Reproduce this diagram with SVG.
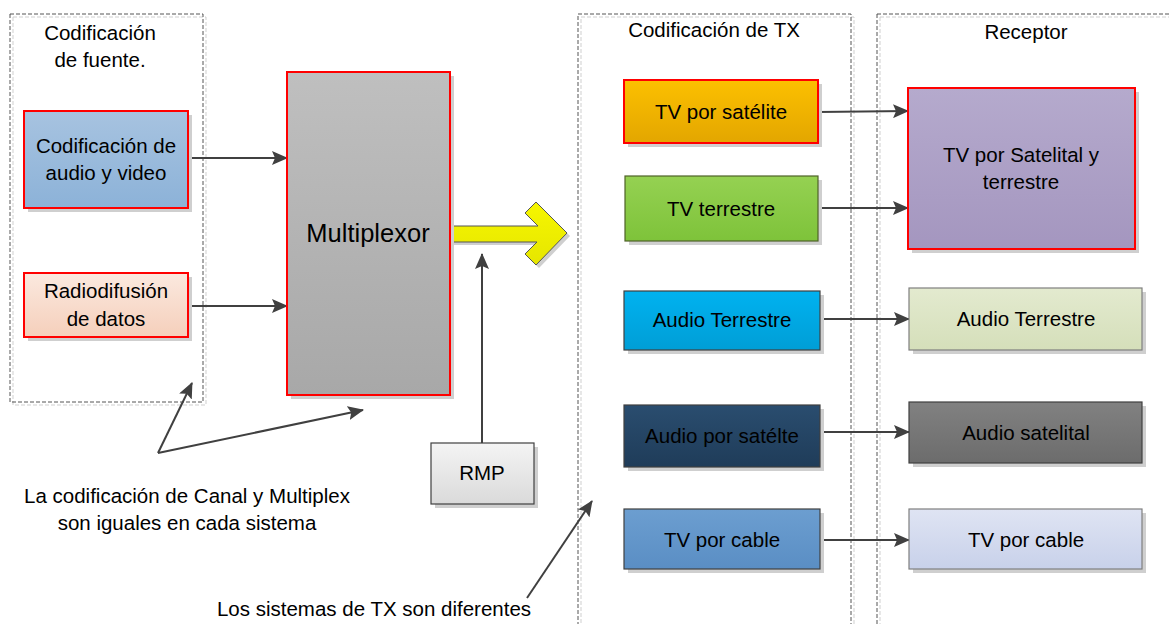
<svg xmlns="http://www.w3.org/2000/svg" width="1169" height="624" viewBox="0 0 1169 624">
<style>
text{font-family:"Liberation Sans",Arial,sans-serif;font-size:20.5px;fill:#000;text-anchor:middle}
.cont{fill:none;stroke:#555;stroke-width:1;stroke-dasharray:4 2}
.conts{fill:none;stroke:#cfcfcf;stroke-width:1;stroke-dasharray:4 2}
.sh{fill:#cfcfcf}
.red{stroke:#ff0000;stroke-width:2}
.dk{stroke:#404040;stroke-width:1.2}
.con{fill:none;stroke:#404040;stroke-width:2;marker-end:url(#ah)}
</style>
<defs>
<marker id="ah" markerWidth="16" markerHeight="14" refX="15" refY="7" orient="auto" markerUnits="userSpaceOnUse">
<path d="M0,0 L16,7 L0,14 L3,7 Z" fill="#404040"/>
</marker>
<linearGradient id="gBlue" x1="0" y1="0" x2="0" y2="1"><stop offset="0" stop-color="#a7c3e0"/><stop offset="1" stop-color="#8cb2d8"/></linearGradient>
<linearGradient id="gPeach" x1="0" y1="0" x2="0" y2="1"><stop offset="0" stop-color="#fbe9df"/><stop offset="1" stop-color="#f5cfbb"/></linearGradient>
<linearGradient id="gGray" x1="0" y1="0" x2="0" y2="1"><stop offset="0" stop-color="#bfbfbf"/><stop offset="1" stop-color="#a8a8a8"/></linearGradient>
<linearGradient id="gRmp" x1="0" y1="0" x2="0" y2="1"><stop offset="0" stop-color="#f4f4f4"/><stop offset="1" stop-color="#dadada"/></linearGradient>
<linearGradient id="gOrange" x1="0" y1="0" x2="0" y2="1"><stop offset="0" stop-color="#fcc000"/><stop offset="1" stop-color="#e3a600"/></linearGradient>
<linearGradient id="gGreen" x1="0" y1="0" x2="0" y2="1"><stop offset="0" stop-color="#95d152"/><stop offset="1" stop-color="#7ec33a"/></linearGradient>
<linearGradient id="gCyan" x1="0" y1="0" x2="0" y2="1"><stop offset="0" stop-color="#00b2f0"/><stop offset="1" stop-color="#009ed6"/></linearGradient>
<linearGradient id="gNavy" x1="0" y1="0" x2="0" y2="1"><stop offset="0" stop-color="#2a4d6f"/><stop offset="1" stop-color="#1f3c59"/></linearGradient>
<linearGradient id="gSteel" x1="0" y1="0" x2="0" y2="1"><stop offset="0" stop-color="#6c9ed0"/><stop offset="1" stop-color="#5a8ec4"/></linearGradient>
<linearGradient id="gPurple" x1="0" y1="0" x2="0" y2="1"><stop offset="0" stop-color="#b5aacd"/><stop offset="1" stop-color="#a496bf"/></linearGradient>
<linearGradient id="gOlive" x1="0" y1="0" x2="0" y2="1"><stop offset="0" stop-color="#e3eacf"/><stop offset="1" stop-color="#d5dfba"/></linearGradient>
<linearGradient id="gDgray" x1="0" y1="0" x2="0" y2="1"><stop offset="0" stop-color="#818181"/><stop offset="1" stop-color="#6c6c6c"/></linearGradient>
<linearGradient id="gLav" x1="0" y1="0" x2="0" y2="1"><stop offset="0" stop-color="#dfe4f3"/><stop offset="1" stop-color="#c8d1ea"/></linearGradient>
<linearGradient id="gYel" x1="0" y1="0" x2="0" y2="1"><stop offset="0" stop-color="#f6f600"/><stop offset="1" stop-color="#e6e600"/></linearGradient>
</defs>
<rect width="1169" height="624" fill="#fff"/>

<g id="container-fuente">
<rect class="conts" x="13" y="17" width="193" height="388"/>
<rect class="cont" x="10" y="14" width="193" height="388"/>
<text x="100" y="40">Codificación</text>
<text x="100" y="67">de fuente.</text>
</g>
<g id="container-tx">
<rect class="conts" x="581" y="17" width="273" height="630"/>
<rect class="cont" x="578" y="14" width="273" height="630"/>
<text x="714" y="37">Codificación de TX</text>
</g>
<g id="container-receptor">
<rect class="conts" x="880" y="17" width="320" height="630"/>
<rect class="cont" x="877" y="14" width="320" height="630"/>
<text x="1026" y="39">Receptor</text>
</g>

<g id="connectors">
<line class="con" x1="188" y1="158" x2="287" y2="158"/>
<line class="con" x1="188" y1="306" x2="287" y2="306"/>
<line class="con" x1="482" y1="443" x2="482" y2="254"/>
<line class="con" x1="158" y1="453" x2="192" y2="383"/>
<line class="con" x1="158" y1="453" x2="363" y2="410"/>
<line class="con" x1="527" y1="598" x2="592" y2="501"/>
<line class="con" x1="818" y1="112" x2="908" y2="111"/>
<line class="con" x1="818" y1="208" x2="908" y2="208"/>
<line class="con" x1="820" y1="319" x2="909" y2="319"/>
<line class="con" x1="812" y1="432" x2="909" y2="432"/>
<line class="con" x1="820" y1="540" x2="909" y2="540"/>
<polygon points="453,229 541,229 528,216 539,205 570,236 539,268 528,257 540,245 453,245" fill="#cfcfcf"/>
<polygon points="450,226 538,226 525,213 536,202 567,233 536,265 525,254 537,242 450,242" fill="url(#gYel)" stroke="#555" stroke-width="1"/>
</g>

<g id="n-audio-video">
<rect class="sh" x="28" y="115" width="164" height="97"/>
<rect x="24" y="111" width="164" height="97" fill="url(#gBlue)" class="red"/>
<text x="106" y="153">Codificación de</text>
<text x="106" y="180">audio y video</text>
</g>
<g id="n-radiodifusion">
<rect class="sh" x="28" y="277" width="164" height="64"/>
<rect x="24" y="273" width="164" height="64" fill="url(#gPeach)" class="red"/>
<text x="106" y="298">Radiodifusión</text>
<text x="106" y="326">de datos</text>
</g>
<g id="n-multiplexor">
<rect class="sh" x="291" y="76" width="163" height="323"/>
<rect x="287" y="72" width="163" height="323" fill="url(#gGray)" class="red"/>
<text x="368" y="242" style="font-size:25.5px">Multiplexor</text>
</g>
<g id="n-rmp">
<rect class="sh" x="435" y="447" width="103" height="61"/>
<rect x="431" y="443" width="103" height="61" fill="url(#gRmp)" class="dk"/>
<text x="482" y="480">RMP</text>
</g>

<g id="n-tv-satelite">
<rect class="sh" x="628" y="84" width="194" height="63"/>
<rect x="624" y="80" width="194" height="63" fill="url(#gOrange)" class="red"/>
<text x="721" y="119">TV por satélite</text>
</g>
<g id="n-tv-terrestre">
<rect class="sh" x="629" y="180" width="193" height="65"/>
<rect x="625" y="176" width="193" height="65" fill="url(#gGreen)" stroke="#4f6228" stroke-width="1.2"/>
<text x="721" y="216">TV terrestre</text>
</g>
<g id="n-audio-terrestre-tx">
<rect class="sh" x="628" y="295" width="196" height="59"/>
<rect x="624" y="291" width="196" height="59" fill="url(#gCyan)" class="dk"/>
<text x="722" y="327">Audio Terrestre</text>
</g>
<g id="n-audio-satelte-tx">
<rect class="sh" x="628" y="409" width="196" height="62"/>
<rect x="624" y="405" width="196" height="62" fill="url(#gNavy)" class="dk"/>
<text x="722" y="443">Audio por satélte</text>
</g>
<g id="n-tv-cable-tx">
<rect class="sh" x="628" y="513" width="196" height="60"/>
<rect x="624" y="509" width="196" height="60" fill="url(#gSteel)" class="dk"/>
<text x="722" y="547">TV por cable</text>
</g>

<g id="n-tv-sat-terr-rx">
<rect class="sh" x="912" y="92" width="227" height="161"/>
<rect x="908" y="88" width="227" height="161" fill="url(#gPurple)" class="red"/>
<text x="1021" y="162">TV por Satelital y</text>
<text x="1021" y="189">terrestre</text>
</g>
<g id="n-audio-terrestre-rx">
<rect class="sh" x="913" y="292" width="233" height="62"/>
<rect x="909" y="288" width="233" height="62" fill="url(#gOlive)" class="dk" style="stroke:#7f7f7f"/>
<text x="1026" y="326">Audio Terrestre</text>
</g>
<g id="n-audio-satelital-rx">
<rect class="sh" x="913" y="406" width="233" height="61"/>
<rect x="909" y="402" width="233" height="61" fill="url(#gDgray)" class="dk"/>
<text x="1026" y="440">Audio satelital</text>
</g>
<g id="n-tv-cable-rx">
<rect class="sh" x="913" y="513" width="233" height="60"/>
<rect x="909" y="509" width="233" height="60" fill="url(#gLav)" class="dk" style="stroke:#7f7f7f"/>
<text x="1026" y="547">TV por cable</text>
</g>

<g id="labels">
<text x="187" y="503">La codificación de Canal y Multiplex</text>
<text x="187" y="530">son iguales en cada sistema</text>
<text x="374" y="616">Los sistemas de TX son diferentes</text>
</g>
</svg>
